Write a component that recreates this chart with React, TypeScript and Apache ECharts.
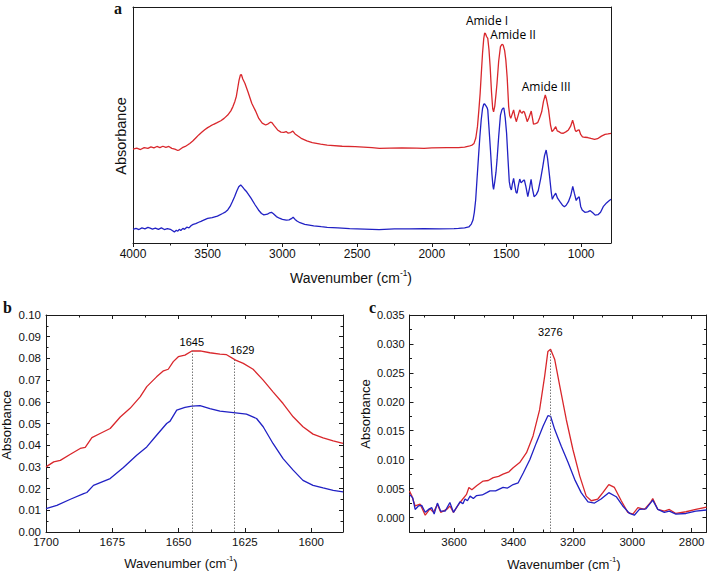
import React, { useEffect, useRef } from 'react';
import * as echarts from 'echarts';

// ---------- Panel a: full spectra (arbitrary absorbance units, offset) ----------
const aRed: [number, number][] = [
  [4000,0.398],[3975,0.402],[3950,0.396],[3925,0.404],[3900,0.401],[3880,0.407],[3860,0.403],[3840,0.409],[3820,0.404],[3800,0.41],
  [3780,0.405],[3760,0.409],[3740,0.401],[3720,0.398],[3700,0.392],[3689,0.395],[3670,0.404],[3650,0.409],[3635,0.415],[3620,0.422],
  [3600,0.432],[3580,0.445],[3560,0.458],[3540,0.469],[3520,0.48],[3500,0.489],[3481,0.496],[3460,0.503],[3440,0.509],[3412,0.518],
  [3390,0.528],[3366,0.542],[3345,0.56],[3331,0.578],[3318,0.6],[3308,0.622],[3298,0.66],[3290,0.69],[3281,0.712],[3274,0.713],
  [3265,0.695],[3251,0.677],[3230,0.64],[3205,0.592],[3180,0.56],[3158,0.528],[3135,0.508],[3112,0.5],[3095,0.505],[3080,0.512],
  [3070,0.51],[3055,0.497],[3032,0.479],[3010,0.47],[2990,0.469],[2975,0.472],[2963,0.466],[2945,0.468],[2930,0.474],[2915,0.462],
  [2893,0.452],[2870,0.442],[2836,0.433],[2800,0.425],[2744,0.419],[2700,0.415],[2600,0.41],[2513,0.408],[2400,0.404],[2350,0.401],
  [2282,0.402],[2200,0.403],[2100,0.402],[2052,0.401],[2000,0.403],[1900,0.404],[1821,0.404],[1780,0.406],[1752,0.41],[1730,0.415],
  [1717,0.422],[1705,0.445],[1694,0.493],[1685,0.56],[1676,0.634],[1668,0.72],[1660,0.804],[1652,0.866],[1646,0.889],[1640,0.887],
  [1633,0.875],[1625,0.867],[1617,0.82],[1609,0.747],[1600,0.64],[1592,0.57],[1586,0.556],[1578,0.58],[1570,0.63],[1563,0.677],
  [1552,0.77],[1540,0.832],[1530,0.842],[1522,0.839],[1512,0.815],[1504,0.775],[1495,0.7],[1485,0.578],[1478,0.54],[1471,0.528],
  [1462,0.545],[1452,0.564],[1443,0.535],[1434,0.514],[1422,0.54],[1411,0.564],[1402,0.553],[1394,0.55],[1388,0.558],[1380,0.555],
  [1370,0.535],[1361,0.514],[1350,0.53],[1334,0.559],[1326,0.53],[1319,0.504],[1305,0.506],[1291,0.51],[1278,0.53],[1264,0.556],
  [1252,0.6],[1240,0.627],[1232,0.61],[1218,0.564],[1205,0.5],[1195,0.472],[1183,0.48],[1170,0.493],[1160,0.475],[1149,0.472],
  [1135,0.466],[1119,0.465],[1100,0.472],[1085,0.479],[1070,0.495],[1057,0.52],[1048,0.5],[1040,0.478],[1033,0.472],[1022,0.478],
  [1013,0.479],[1003,0.46],[991,0.45],[975,0.448],[956,0.447],[935,0.443],[910,0.439],[890,0.442],[864,0.453],[840,0.46],
  [820,0.462],[800,0.465],
];
const aBlue: [number, number][] = [
  [4000,0.058],[3980,0.062],[3960,0.057],[3940,0.064],[3920,0.06],[3900,0.066],[3885,0.063],[3870,0.059],[3850,0.063],[3830,0.058],
  [3810,0.064],[3790,0.057],[3770,0.061],[3750,0.058],[3735,0.052],[3723,0.047],[3710,0.054],[3700,0.05],[3690,0.058],[3680,0.053],
  [3666,0.062],[3655,0.058],[3640,0.067],[3625,0.064],[3610,0.074],[3597,0.079],[3580,0.082],[3560,0.088],[3545,0.092],[3527,0.097],
  [3500,0.104],[3470,0.108],[3435,0.114],[3400,0.125],[3380,0.132],[3366,0.14],[3350,0.155],[3335,0.175],[3320,0.196],[3305,0.22],
  [3292,0.238],[3279,0.246],[3270,0.24],[3255,0.228],[3239,0.217],[3210,0.19],[3182,0.161],[3160,0.14],[3140,0.125],[3124,0.119],
  [3100,0.122],[3085,0.128],[3073,0.13],[3060,0.124],[3040,0.112],[3020,0.105],[3000,0.1],[2974,0.097],[2955,0.098],[2940,0.103],
  [2928,0.109],[2915,0.1],[2900,0.092],[2882,0.086],[2850,0.079],[2820,0.076],[2790,0.073],[2740,0.069],[2700,0.066],[2628,0.064],
  [2550,0.061],[2450,0.059],[2352,0.057],[2250,0.06],[2150,0.06],[2052,0.061],[1950,0.06],[1850,0.061],[1821,0.062],[1780,0.064],
  [1752,0.068],[1735,0.08],[1724,0.097],[1715,0.13],[1706,0.182],[1697,0.27],[1687,0.366],[1678,0.45],[1669,0.521],[1660,0.57],
  [1652,0.588],[1646,0.589],[1638,0.582],[1630,0.574],[1625,0.564],[1617,0.49],[1607,0.394],[1597,0.29],[1590,0.24],[1586,0.227],
  [1578,0.26],[1570,0.3],[1563,0.352],[1552,0.45],[1540,0.542],[1530,0.565],[1522,0.572],[1517,0.571],[1508,0.53],[1499,0.465],
  [1490,0.36],[1481,0.26],[1474,0.235],[1467,0.225],[1460,0.252],[1452,0.274],[1443,0.24],[1436,0.215],[1429,0.211],[1420,0.245],
  [1411,0.271],[1402,0.255],[1394,0.26],[1387,0.265],[1380,0.267],[1370,0.24],[1357,0.196],[1346,0.23],[1335,0.27],[1326,0.23],
  [1315,0.196],[1300,0.205],[1287,0.222],[1270,0.275],[1257,0.323],[1245,0.37],[1234,0.394],[1225,0.36],[1211,0.281],[1200,0.215],
  [1193,0.185],[1182,0.2],[1170,0.211],[1158,0.19],[1142,0.175],[1125,0.16],[1112,0.154],[1100,0.16],[1085,0.175],[1070,0.2],
  [1056,0.24],[1045,0.21],[1033,0.18],[1024,0.19],[1013,0.196],[1003,0.155],[993,0.14],[975,0.13],[956,0.132],[939,0.137],
  [922,0.128],[906,0.118],[887,0.12],[870,0.13],[852,0.154],[830,0.17],[815,0.178],[800,0.185],
];
const aNoteNames = ['Amide I', 'Amide II', 'Amide III'];
const aNotePos: [number, number][] = [[1630, 0.943], [1455, 0.885], [1234, 0.665]];
const aXMajor = [1000, 1500, 2000, 2500, 3000, 3500, 4000];
const aXMinor = [1250, 1750, 2250, 2750, 3250, 3750];

// ---------- Panel b: amide I region ----------
const bRed: [number, number][] = [
  [1700,0.030],[1697.1,0.0323],[1694.6,0.033],[1690.8,0.0358],[1687.1,0.0385],[1685.2,0.039],[1682.7,0.0435],[1679.6,0.0454],
  [1675.8,0.0477],[1672,0.053],[1668.3,0.057],[1664.5,0.0623],[1662,0.067],[1658.3,0.0715],[1655.7,0.0743],[1653.9,0.075],
  [1652,0.0785],[1650.1,0.0808],[1647.6,0.0815],[1645,0.0834],[1641.9,0.0835],[1638.2,0.0826],[1634.4,0.082],[1631.9,0.0817],
  [1628.5,0.0792],[1625.6,0.0777],[1621.9,0.075],[1618.1,0.07],[1614.4,0.0646],[1610.6,0.0592],[1606.8,0.0531],[1603.1,0.0485],
  [1599.3,0.0451],[1595.5,0.0434],[1591.7,0.042],[1588,0.0408],
];
const bBlue: [number, number][] = [
  [1700,0.0108],[1695.9,0.0123],[1690.8,0.0151],[1685.8,0.0177],[1684.6,0.0182],[1682.1,0.0215],[1675.8,0.0246],[1670.8,0.0297],
  [1665.8,0.0354],[1662,0.0392],[1658.3,0.0446],[1654.5,0.05],[1653.2,0.0511],[1650.7,0.0562],[1647.6,0.0574],[1645,0.058],
  [1641.9,0.0582],[1638.2,0.0569],[1634.4,0.0557],[1628.5,0.0549],[1624.4,0.0543],[1620.6,0.0523],[1618.1,0.0485],[1614.4,0.0408],
  [1610.6,0.0338],[1606.8,0.0285],[1603.1,0.0238],[1599.3,0.0215],[1595.5,0.0203],[1591.7,0.0192],[1588,0.0185],
];
const bPeaks = [1645, 1629];
const bPeakTops = [0.0834, 0.0793];
const bPeakLabelPos: [number, number][] = [[1645, 0.0877], [1626, 0.0838]];
const bXMajor = [1600, 1625, 1650, 1675, 1700];
const bXMinor = [1612.5, 1637.5, 1662.5, 1687.5];
const bYMajor = [0, 0.01, 0.02, 0.03, 0.04, 0.05, 0.06, 0.07, 0.08, 0.09, 0.1];
const bYMinor = [0.005, 0.015, 0.025, 0.035, 0.045, 0.055, 0.065, 0.075, 0.085, 0.095];

// ---------- Panel c: amide A region ----------
const cRed: [number, number][] = [
  [3750,0.0046],[3742,0.0037],[3731,0.002],[3714,0.0023],[3697,0.0004],[3681,0.0015],[3669,0.0009],[3656,0.0023],[3645,0.0009],
  [3625,0.0014],[3614,0.002],[3602,0.0009],[3580,0.0026],[3558,0.004],[3550,0.0052],[3540,0.0048],[3524,0.0055],[3502,0.0063],
  [3485,0.0064],[3468,0.0069],[3450,0.0071],[3435,0.0075],[3415,0.0079],[3401,0.0086],[3379,0.0095],[3356,0.0112],[3334,0.0141],
  [3312,0.0186],[3295,0.0244],[3284,0.0287],[3275,0.0291],[3261,0.0273],[3244,0.0227],[3222,0.0169],[3200,0.0118],[3177,0.0072],
  [3155,0.0037],[3138,0.0029],[3116,0.0032],[3099,0.0043],[3079,0.0057],[3060,0.0052],[3037,0.0029],[3015,0.0009],[2998,0.0006],
  [2981,0.0017],[2959,0.0014],[2937,0.0027],[2931,0.0033],[2914,0.0014],[2892,0.0011],[2875,0.0014],[2853,0.0007],[2819,0.001],
  [2786,0.0014],[2750,0.0018],
];
const cBlue: [number, number][] = [
  [3750,0.004],[3739,0.0034],[3731,0.0014],[3720,0.002],[3709,0.0021],[3697,0.0009],[3686,0.0014],[3675,0.0017],[3667,0.0006],
  [3656,0.0025],[3645,0.0011],[3630,0.0011],[3614,0.0026],[3602,0.0009],[3580,0.0027],[3570,0.0024],[3563,0.0032],[3555,0.0029],
  [3546,0.0037],[3535,0.0033],[3524,0.0038],[3505,0.0039],[3490,0.0043],[3479,0.0046],[3460,0.0046],[3435,0.0052],[3420,0.0051],
  [3401,0.0057],[3384,0.006],[3367,0.0077],[3345,0.01],[3323,0.0129],[3300,0.0158],[3284,0.0176],[3275,0.0175],[3261,0.0152],
  [3239,0.0123],[3216,0.0095],[3194,0.0066],[3172,0.0043],[3149,0.0027],[3127,0.0025],[3105,0.0032],[3079,0.0043],[3054,0.0036],
  [3032,0.002],[3009,0.0007],[2993,0.0004],[2976,0.0014],[2954,0.0015],[2931,0.003],[2914,0.0014],[2892,0.0009],[2875,0.0011],
  [2853,0.0006],[2819,0.0007],[2786,0.0011],[2750,0.0013],
];
const cPeak = 3276;
const cPeakTop = 0.0289;
const cPeakLabelPos: [number, number] = [3276, 0.0321];
const cXMajor = [2800, 3000, 3200, 3400, 3600];
const cXMinor = [2900, 3100, 3300, 3500, 3700];
const cYMajor = [0, 0.005, 0.01, 0.015, 0.02, 0.025, 0.03, 0.035];
const cYMinor = [0.0025, 0.0075, 0.0125, 0.0175, 0.0225, 0.0275, 0.0325];

const RED = '#d9272c';
const BLUE = '#2121c4';
const AXC = '#1a1a1a';
const SANS = "'Liberation Sans', Arial, sans-serif";
const SERIF = "'Liberation Serif', 'Times New Roman', serif";

function axis(
  dim: 'x' | 'y', gridIndex: number, position: string, min: number, max: number, inverse: boolean,
  ticks: number[], len: number, inside: boolean, labels: boolean, fmt: (v: number) => string,
  fontSize: number, margin: number, showLine: boolean,
) {
  return {
    type: 'value', gridIndex, position, min, max, inverse,
    axisLine: { show: showLine, onZero: false, lineStyle: { color: AXC, width: 1 } },
    axisTick: { show: ticks.length > 0, inside, length: len, customValues: ticks, lineStyle: { color: AXC, width: 1 } },
    axisLabel: labels
      ? { show: true, customValues: ticks, formatter: fmt, fontSize, fontFamily: SANS, color: '#111', margin }
      : { show: false },
    splitLine: { show: false },
    minorTick: { show: false },
  };
}

export default function App() {
  const ref = useRef<HTMLDivElement>(null);
  useEffect(() => {
    if (!ref.current) return;
    const chart = echarts.init(ref.current, undefined, { renderer: 'svg' });
    const xAxes: any[] = [];
    const yAxes: any[] = [];
    const n = (v: number) => String(v);
    const none = (v: number) => '';

    // panel a (grid 0)
    const aX = xAxes.length;
    xAxes.push(axis('x', 0, 'bottom', 800, 4000, true, aXMajor, 4, false, true, n, 12, 5, true));
    xAxes.push(axis('x', 0, 'bottom', 800, 4000, true, aXMinor, 2.5, false, false, none, 12, 5, false));
    xAxes.push(axis('x', 0, 'top', 800, 4000, true, [], 0, false, false, none, 12, 5, true));
    const aY = yAxes.length;
    yAxes.push(axis('y', 0, 'left', 0, 1, false, [], 0, false, false, none, 12, 5, true));
    yAxes.push(axis('y', 0, 'right', 0, 1, false, [], 0, false, false, none, 12, 5, true));

    // panel b (grid 1)
    const bX = xAxes.length;
    xAxes.push(axis('x', 1, 'bottom', 1588, 1700, true, bXMajor, 4, true, true, n, 11.5, 4, true));
    xAxes.push(axis('x', 1, 'bottom', 1588, 1700, true, bXMinor, 2.5, true, false, none, 11, 4, false));
    xAxes.push(axis('x', 1, 'top', 1588, 1700, true, bXMajor, 4, true, false, none, 11, 4, true));
    xAxes.push(axis('x', 1, 'top', 1588, 1700, true, bXMinor, 2.5, true, false, none, 11, 4, false));
    const bY = yAxes.length;
    yAxes.push(axis('y', 1, 'left', 0, 0.1, false, bYMajor, 4, true, true, (v) => v.toFixed(2), 11.5, 5, true));
    yAxes.push(axis('y', 1, 'left', 0, 0.1, false, bYMinor, 2.5, true, false, none, 11, 5, false));
    yAxes.push(axis('y', 1, 'right', 0, 0.1, false, bYMajor, 4, true, false, none, 11, 5, true));
    yAxes.push(axis('y', 1, 'right', 0, 0.1, false, bYMinor, 2.5, true, false, none, 11, 5, false));

    // panel c (grid 2)
    const cX = xAxes.length;
    xAxes.push(axis('x', 2, 'bottom', 2750, 3750, true, cXMajor, 4, true, true, n, 11.5, 4, true));
    xAxes.push(axis('x', 2, 'bottom', 2750, 3750, true, cXMinor, 2.5, true, false, none, 11, 4, false));
    xAxes.push(axis('x', 2, 'top', 2750, 3750, true, cXMajor, 4, true, false, none, 11, 4, true));
    xAxes.push(axis('x', 2, 'top', 2750, 3750, true, cXMinor, 2.5, true, false, none, 11, 4, false));
    const cY = yAxes.length;
    yAxes.push(axis('y', 2, 'left', -0.0025, 0.035, false, cYMajor, 4, true, true, (v) => v.toFixed(3), 11, 5, true));
    yAxes.push(axis('y', 2, 'left', -0.0025, 0.035, false, cYMinor, 2.5, true, false, none, 11, 5, false));
    yAxes.push(axis('y', 2, 'right', -0.0025, 0.035, false, cYMajor, 4, true, false, none, 11, 5, true));
    yAxes.push(axis('y', 2, 'right', -0.0025, 0.035, false, cYMinor, 2.5, true, false, none, 11, 5, false));

    const line = (data: [number, number][], color: string, xi: number, yi: number, extra: any = {}) => ({
      type: 'line', data, xAxisIndex: xi, yAxisIndex: yi, showSymbol: false, symbol: 'none',
      lineStyle: { color, width: 1.3 }, itemStyle: { color }, silent: true, z: 3, ...extra,
    });
    const dotted = { type: [1.5, 1.5], color: '#777', width: 1 };
    const notes = (names: string[], pos: [number, number][], xi: number, yi: number, font: string, size: number) => ({
      type: 'scatter', xAxisIndex: xi, yAxisIndex: yi, symbolSize: 0, silent: true, z: 5,
      itemStyle: { color: '#000', opacity: 1 },
      data: names.map((nm, i) => ({ name: nm, value: pos[i] })),
      label: {
        show: true, position: 'inside', formatter: '{b}', fontFamily: font, fontSize: size,
        lineHeight: size - 1, color: '#000', opacity: 1,
      },
      labelLayout: { hideOverlap: false },
    });

    const subTitle = (txt: string, x: number, y: number, size: number) => ({
      type: 'text', x, y, z: 10,
      style: {
        text: `{n|${txt} (cm}{s|-1}{n|)}`,
        align: 'center', verticalAlign: 'middle',
        rich: {
          n: { fontSize: size, fontFamily: SANS, fill: '#111', lineHeight: size + 4 },
          s: { fontSize: size * 0.6, fontFamily: SANS, fill: '#111', verticalAlign: 'top', lineHeight: size * 0.6 + 1 },
        },
      },
    });
    const yTitle = (x: number, y: number, size: number) => ({
      type: 'text', x, y, rotation: Math.PI / 2, z: 10,
      style: { text: 'Absorbance', fontSize: size, fontFamily: SANS, fill: '#111', align: 'center', verticalAlign: 'middle' },
    });
    const letter = (t: string, x: number, y: number) => ({
      type: 'text', x, y, z: 10,
      style: { text: t, fontSize: 16, fontWeight: 'bold', fontFamily: SERIF, fill: '#111', align: 'center', verticalAlign: 'middle' },
    });

    chart.setOption({
      animation: false,
      backgroundColor: '#ffffff',
      grid: [
        { left: 133, top: 7, width: 478, height: 236, outerBoundsMode: 'none', containLabel: false },
        { left: 46, top: 315, width: 297, height: 217, outerBoundsMode: 'none', containLabel: false },
        { left: 409.5, top: 315, width: 297, height: 217, outerBoundsMode: 'none', containLabel: false },
      ],
      xAxis: xAxes,
      yAxis: yAxes,
      series: [
        line(aRed, RED, aX, aY),
        line(aBlue, BLUE, aX, aY),
        notes(aNoteNames, aNotePos, aX, aY, "'Open Sans', sans-serif", 12),
        line(bRed, RED, bX, bY, {
          markLine: {
            symbol: 'none', silent: true, label: { show: false }, lineStyle: dotted,
            data: bPeaks.map((p, i) => [{ coord: [p, 0] }, { coord: [p, bPeakTops[i]] }]),
          },
        }),
        line(bBlue, BLUE, bX, bY),
        notes(bPeaks.map(String), bPeakLabelPos, bX, bY, SANS, 11),
        line(cRed, RED, cX, cY, {
          markLine: {
            symbol: 'none', silent: true, label: { show: false }, lineStyle: dotted,
            data: [[{ coord: [cPeak, -0.0025] }, { coord: [cPeak, cPeakTop] }]],
          },
        }),
        line(cBlue, BLUE, cX, cY),
        notes([String(cPeak)], [cPeakLabelPos], cX, cY, SANS, 11),
      ],
      graphic: [
        letter('a', 118, 8.5),
        letter('b', 7.5, 307.9),
        letter('c', 372.5, 307.9),
        yTitle(121, 136, 14.5),
        subTitle('Wavenumber', 351, 278, 14),
        yTitle(6.5, 425, 13),
        subTitle('Wavenumber', 181, 563, 13),
        yTitle(365, 414, 13),
        subTitle('Wavenumber', 564, 564, 13),
      ],
    });
    return () => chart.dispose();
  }, []);
  return <div ref={ref} style={{ position: 'absolute', left: 0, top: 0, width: 708, height: 571 }} />;
}
